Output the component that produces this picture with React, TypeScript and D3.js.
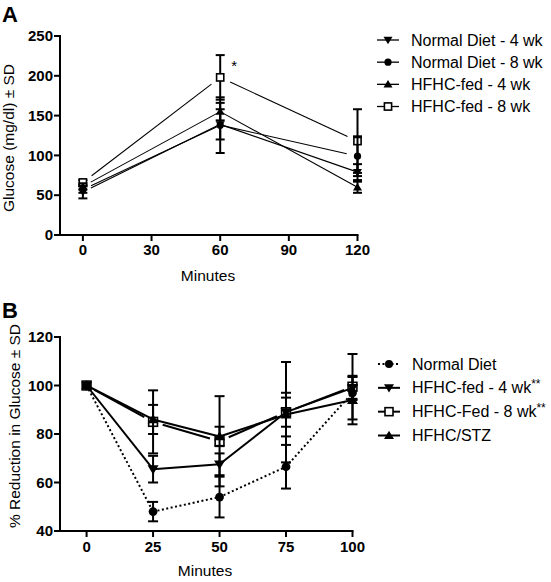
import React from 'react';
import * as d3 from 'd3';

const FONT = '"Liberation Sans", Arial, Helvetica, sans-serif';

// ---------- Panel A data ----------
const minutesA = [0, 60, 120];
const xTicksA = [0, 30, 60, 90, 120];
const yTicksA = [0, 50, 100, 150, 200, 250];
const normal4wkMean = [54, 139, 79];
const normal4wkSd = [8, 19, 10];
const normal8wkMean = [57, 138, 99];
const normal8wkSd = [4, 35, 25];
const hfhc4wkMean = [61, 155, 60];
const hfhc4wkSd = [4, 11, 7];
const hfhc8wkMean = [66, 198, 118];
const hfhc8wkSd = [3, 28, 40];
const legendA = ['Normal Diet - 4 wk', 'Normal Diet - 8 wk', 'HFHC-fed - 4 wk', 'HFHC-fed - 8 wk'];

// ---------- Panel B data ----------
const minutesB = [0, 25, 50, 75, 100];
const xTicksB = [0, 25, 50, 75, 100];
const yTicksB = [40, 60, 80, 100, 120];
const normalBMean = [100, 48, 54, 66.5, 97];
const normalBSd = [0, 4, 8.4, 9, 3];
const hfhc4BMean = [100, 65.5, 67.5, 89, 99];
const hfhc4BSd = [0, 5.5, 4.5, 6, 4.5];
const hfhc8BMean = [100, 85, 77, 89, 99.5];
const hfhc8BSd = [0, 13, 18.6, 20.7, 13.5];
const stzBMean = [100, 86, 79, 88, 94];
const stzBSd = [0, 6, 4, 9, 10];
const legendB = ['Normal Diet', 'HFHC-fed - 4 wk', 'HFHC-Fed - 8 wk', 'HFHC/STZ'];
const legendBSup = ['', '**', '**', ''];

type Shape = 'down' | 'up' | 'circle' | 'square';

function Marker({ shape, x, y, s }: { shape: Shape; x: number; y: number; s: number }) {
  if (shape === 'circle') return <circle cx={x} cy={y} r={s * 0.8} fill="#000" />;
  if (shape === 'square')
    return <rect x={x - s * 0.8} y={y - s * 0.8} width={s * 1.6} height={s * 1.6} fill="#fff" stroke="#000" strokeWidth={1.6} />;
  if (shape === 'down')
    return <path d={`M${x - s},${y - s * 0.7}L${x + s},${y - s * 0.7}L${x},${y + s * 0.95}Z`} fill="#000" />;
  return <path d={`M${x - s},${y + s * 0.7}L${x + s},${y + s * 0.7}L${x},${y - s * 0.95}Z`} fill="#000" />;
}

function gapSeg(x1: number, y1: number, x2: number, y2: number, g1: number, g2: number) {
  const dx = x2 - x1, dy = y2 - y1;
  const L = Math.hypot(dx, dy);
  return [x1 + (dx * g1) / L, y1 + (dy * g1) / L, x2 - (dx * g2) / L, y2 - (dy * g2) / L];
}

interface Series {
  mean: number[];
  sd: number[];
  shape: Shape;
  gaps: number[];
  dash?: string;
}

function Panel({
  xs, series, x, y, lineW, markS, capW, order,
}: {
  xs: number[]; series: Series[]; x: d3.ScaleLinear<number, number>; y: d3.ScaleLinear<number, number>;
  lineW: number; markS: number; capW: number; order: number[];
}) {
  return (
    <g>
      {order.map((si) => {
        const s = series[si];
        const segs = [] as React.ReactNode[];
        for (let i = 0; i < xs.length - 1; i++) {
          const [a, b, c, d] = gapSeg(x(xs[i]), y(s.mean[i]), x(xs[i + 1]), y(s.mean[i + 1]), s.gaps[i], s.gaps[i + 1]);
          segs.push(
            <line key={'l' + i} x1={a} y1={b} x2={c} y2={d} stroke="#000" strokeWidth={lineW} strokeDasharray={s.dash} />
          );
        }
        return (
          <g key={si}>
            {segs}
            {xs.map((t, i) =>
              s.sd[i] > 0 ? (
                <g key={'e' + i} stroke="#000" strokeWidth={2}>
                  <line x1={x(t)} x2={x(t)} y1={y(s.mean[i] + s.sd[i])} y2={y(s.mean[i] - s.sd[i])} />
                  <line x1={x(t) - capW / 2} x2={x(t) + capW / 2} y1={y(s.mean[i] + s.sd[i])} y2={y(s.mean[i] + s.sd[i])} />
                  <line x1={x(t) - capW / 2} x2={x(t) + capW / 2} y1={y(s.mean[i] - s.sd[i])} y2={y(s.mean[i] - s.sd[i])} />
                </g>
              ) : null
            )}
            {xs.map((t, i) => (
              <Marker key={'m' + i} shape={s.shape} x={x(t)} y={y(s.mean[i])} s={markS} />
            ))}
          </g>
        );
      })}
    </g>
  );
}

function Axes({
  x, y, xTicks, yTicks, xLabelY, title, titleX, titleY, xTitleY, xTitleX,
}: {
  x: d3.ScaleLinear<number, number>; y: d3.ScaleLinear<number, number>; xTicks: number[]; yTicks: number[];
  xLabelY: number; title: string; titleX: number; titleY: number; xTitleY: number; xTitleX: number;
}) {
  const [x0, x1] = x.range();
  const [y0, y1] = y.range();
  return (
    <g fontFamily={FONT}>
      <line x1={x0} x2={x0} y1={y0 + 1} y2={y1 - 1} stroke="#000" strokeWidth={2} />
      <line x1={x0 - 1} x2={x1 + 1} y1={y0} y2={y0} stroke="#000" strokeWidth={2} />
      {yTicks.map((t) => (
        <g key={'y' + t}>
          <line x1={x0 - 6} x2={x0} y1={y(t)} y2={y(t)} stroke="#000" strokeWidth={2} />
          <text x={x0 - 7} y={y(t)} dy="0.35em" textAnchor="end" fontSize={15} fontWeight="bold">{t}</text>
        </g>
      ))}
      {xTicks.map((t) => (
        <g key={'x' + t}>
          <line x1={x(t)} x2={x(t)} y1={y0} y2={y0 + 6} stroke="#000" strokeWidth={2} />
          <text x={x(t)} y={xLabelY} textAnchor="middle" fontSize={15} fontWeight="bold">{t}</text>
        </g>
      ))}
      <text x={xTitleX} y={xTitleY} textAnchor="middle" fontSize={15.5}>Minutes</text>
      <text transform={`translate(${titleX},${titleY}) rotate(-90)`} textAnchor="middle" fontSize={15.5}>{title}</text>
    </g>
  );
}

export default function App() {
  const xA = d3.scaleLinear().domain([-10, 120]).range([60, 357.5]);
  const yA = d3.scaleLinear().domain([0, 250]).range([235, 36]);
  const xB = d3.scaleLinear().domain([-10, 100]).range([60, 352.5]);
  const yB = d3.scaleLinear().domain([40, 120]).range([531, 337]);

  const seriesA: Series[] = [
    { mean: normal4wkMean, sd: normal4wkSd, shape: 'down', gaps: [9, 0, 0] },
    { mean: normal8wkMean, sd: normal8wkSd, shape: 'circle', gaps: [9, 0, 11] },
    { mean: hfhc4wkMean, sd: hfhc4wkSd, shape: 'up', gaps: [9, 0, 0] },
    { mean: hfhc8wkMean, sd: hfhc8wkSd, shape: 'square', gaps: [11, 11, 11] },
  ];
  const seriesB: Series[] = [
    { mean: normalBMean, sd: normalBSd, shape: 'circle', gaps: [0, 0, 0, 0, 0], dash: '2,2.5' },
    { mean: hfhc4BMean, sd: hfhc4BSd, shape: 'down', gaps: [0, 0, 0, 0, 0] },
    { mean: hfhc8BMean, sd: hfhc8BSd, shape: 'square', gaps: [9, 10, 10, 10, 9] },
    { mean: stzBMean, sd: stzBSd, shape: 'up', gaps: [0, 0, 0, 0, 0] },
  ];
  const shapesA: Shape[] = ['down', 'circle', 'up', 'square'];
  const shapesB: Shape[] = ['circle', 'down', 'square', 'up'];
  const legAy = d3.scalePoint<number>().domain([0, 1, 2, 3]).range([40, 106.5]);
  const legBy = d3.scalePoint<number>().domain([0, 1, 2, 3]).range([364, 435.5]);

  return (
    <svg width={551} height={582} style={{ position: 'absolute', left: 0, top: 0, background: '#fff' }} fontFamily={FONT}>
      <rect width={551} height={582} fill="#fff" />
      {/* Panel A */}
      <text x={2} y={22} fontSize={22} fontWeight="bold">A</text>
      <Axes x={xA} y={yA} xTicks={xTicksA} yTicks={yTicksA} xLabelY={255} title="Glucose (mg/dl) ± SD"
        titleX={14} titleY={138} xTitleX={208} xTitleY={281} />
      <Panel xs={minutesA} series={seriesA} x={xA} y={yA} lineW={1.1} markS={4.5} capW={9} order={[3, 0, 1, 2]} />
      <text x={xA(60) + 11} y={yA(198) - 6} fontSize={15}>*</text>
      <g>
        {legendA.map((lab, i) => (
          <g key={lab}>
            <line x1={377} x2={399} y1={legAy(i)} y2={legAy(i)} stroke="#000" strokeWidth={1.3} />
            <Marker shape={shapesA[i]} x={388} y={legAy(i)!} s={4.5} />
            <text x={411} y={legAy(i)} dy="0.35em" fontSize={16}>{lab}</text>
          </g>
        ))}
      </g>

      {/* Panel B */}
      <text x={2} y={318} fontSize={22} fontWeight="bold">B</text>
      <Axes x={xB} y={yB} xTicks={xTicksB} yTicks={yTicksB} xLabelY={552} title="% Reduction in Glucose ± SD"
        titleX={20} titleY={426} xTitleX={205} xTitleY={576} />
      <Panel xs={minutesB} series={seriesB} x={xB} y={yB} lineW={2} markS={5.5} capW={10} order={[2, 0, 1, 3]} />
      <g>
        {legendB.map((lab, i) => (
          <g key={lab}>
            <line x1={378} x2={400} y1={legBy(i)} y2={legBy(i)} stroke="#000" strokeWidth={2}
              strokeDasharray={i === 0 ? '2,2.5' : undefined} />
            <Marker shape={shapesB[i]} x={389} y={legBy(i)!} s={5} />
            <text x={412} y={legBy(i)} dy="0.35em" fontSize={16}>
              {lab}
              {legendBSup[i] ? <tspan dy={-5} fontSize={12}>{legendBSup[i]}</tspan> : null}
            </text>
          </g>
        ))}
      </g>
    </svg>
  );
}
